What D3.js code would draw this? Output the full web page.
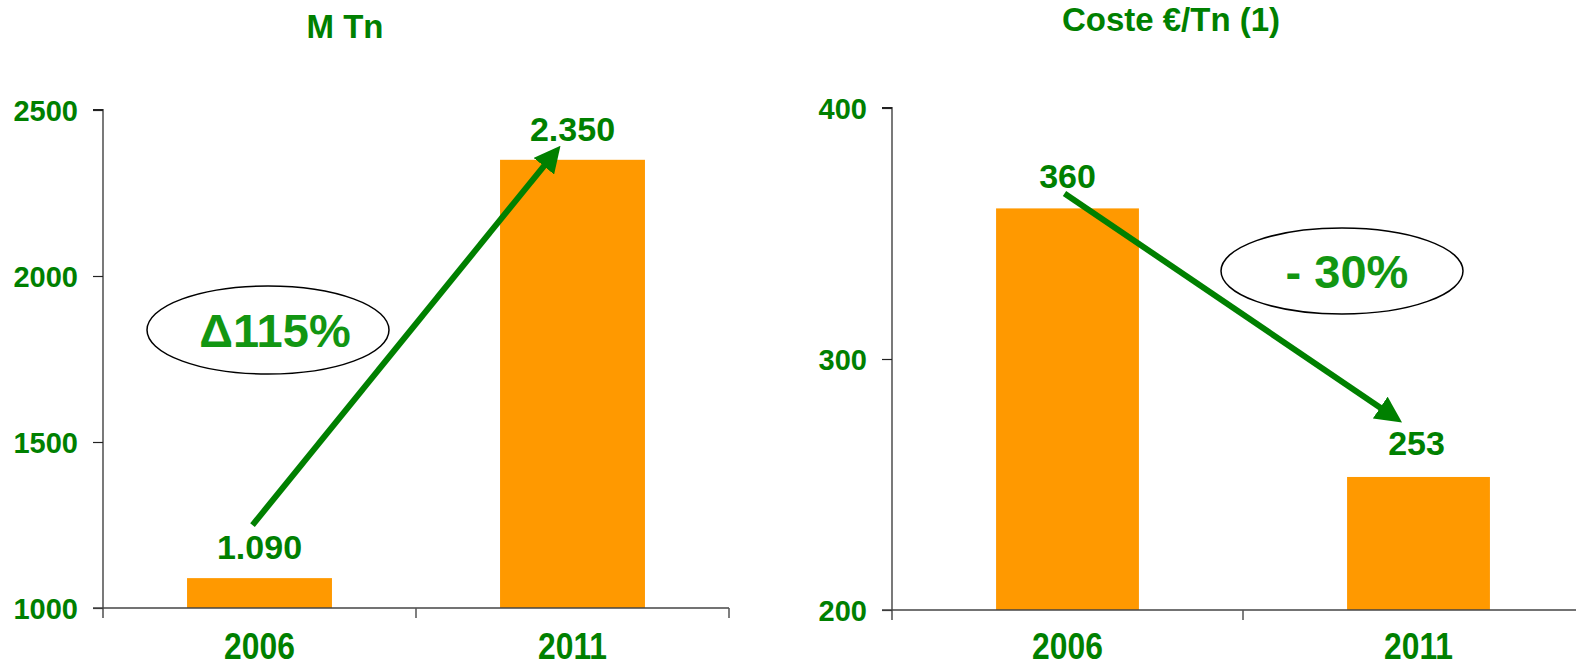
<!DOCTYPE html>
<html>
<head>
<meta charset="utf-8">
<script src="https://cdn.jsdelivr.net/npm/d3@7"></script>
<style>
  html, body { margin: 0; padding: 0; background: #fff; }
  svg text { font-family: "Liberation Sans", Arial, sans-serif; font-weight: bold; }
</style>
</head>
<body>
<svg id="chart" width="1576" height="666"></svg>
<script>
// 数据
const years = ["2006", "2011"];
const tonnes = [1090, 2350];
const tonneLabels = ["1.090", "2.350"];
const tonneTicks = [1000, 1500, 2000, 2500];
const costs = [360, 253];
const costLabels = ["360", "253"];
const costTicks = [200, 300, 400];

const green = "#008000";
const barColor = "#FF9900";

const svg = d3.select("#chart");

// 箭头标记
svg.append("defs").append("marker")
  .attr("id", "head")
  .attr("viewBox", "0 0 10 10")
  .attr("refX", 7).attr("refY", 5)
  .attr("markerWidth", 4.4).attr("markerHeight", 4.4)
  .attr("orient", "auto")
  .attr("markerUnits", "strokeWidth")
  .append("path")
  .attr("d", "M0,0 L10,5 L0,10 z")
  .attr("fill", green);

// 画一个小图
function drawPanel(opt) {
  const g = svg.append("g");

  const x = d3.scaleBand()
    .domain(years)
    .range(opt.xRange)
    .paddingInner(opt.pad)
    .paddingOuter(opt.pad / 2);

  const y = d3.scaleLinear()
    .domain(opt.yDomain)
    .range(opt.yRange);

  const x0 = opt.xRange[0];
  const base = opt.yRange[0];

  // 柱子
  g.selectAll("rect")
    .data(opt.values)
    .enter()
    .append("rect")
    .attr("x", (d, i) => x(years[i]))
    .attr("y", d => y(d))
    .attr("width", x.bandwidth())
    .attr("height", d => base - y(d))
    .attr("fill", barColor);

  // y 轴
  const yAxis = d3.axisLeft(y)
    .tickValues(opt.ticks)
    .tickSize(10)
    .tickPadding(15)
    .tickFormat(d3.format("d"));
  const ya = g.append("g")
    .attr("transform", `translate(${x0},0)`)
    .call(yAxis);
  ya.select(".domain").attr("stroke", "#222").attr("stroke-width", 1.2)
    .attr("d", `M0,${opt.yRange[1] - 0.5}H-10H0V${base + 10}`);
  ya.selectAll(".tick line").attr("stroke", "#222").attr("stroke-width", 1.2);
  ya.selectAll(".tick text")
    .attr("fill", green)
    .attr("font-size", 29)
    .attr("dy", "0.36em")
    .style("font-family", "'Liberation Sans', Arial, sans-serif")
    .style("font-weight", "bold");

  // x 轴 基线
  g.append("line")
    .attr("x1", x0 - 10).attr("x2", opt.xRange[1])
    .attr("y1", base).attr("y2", base)
    .attr("stroke", "#444").attr("stroke-width", 1.5);

  // 分隔刻度
  const step = x.step();
  d3.range(1, years.length + 1).forEach(i => {
    g.append("line")
      .attr("x1", x0 + i * step).attr("x2", x0 + i * step)
      .attr("y1", base).attr("y2", base + 10)
      .attr("stroke", "#555").attr("stroke-width", 1.5);
  });

  // x 轴标签 (窄体)
  g.selectAll(".xlab")
    .data(years)
    .enter()
    .append("text")
    .attr("class", "xlab")
    .attr("transform", d => `translate(${x(d) + x.bandwidth() / 2},659) scale(0.86,1)`)
    .attr("text-anchor", "middle")
    .attr("fill", green)
    .attr("font-size", 37)
    .text(d => d);

  // 数值标签
  g.selectAll(".vlab")
    .data(opt.values)
    .enter()
    .append("text")
    .attr("class", "vlab")
    .attr("x", (d, i) => x(years[i]) + x.bandwidth() / 2 + opt.labelDx[i])
    .attr("y", (d, i) => y(d) + opt.labelDy[i])
    .attr("text-anchor", "middle")
    .attr("fill", green)
    .attr("font-size", 34)
    .text((d, i) => opt.labels[i]);

  // 标题
  g.append("text")
    .attr("x", opt.titleX)
    .attr("y", opt.titleY)
    .attr("text-anchor", "middle")
    .attr("fill", green)
    .attr("font-size", 33)
    .text(opt.title);

  // 箭头
  const c = years.map(yr => x(yr) + x.bandwidth() / 2);
  g.append("line")
    .attr("x1", c[0] + opt.arrow[0]).attr("y1", y(opt.values[0]) + opt.arrow[1])
    .attr("x2", c[1] + opt.arrow[2]).attr("y2", y(opt.values[1]) + opt.arrow[3])
    .attr("stroke", green)
    .attr("stroke-width", 6)
    .attr("marker-end", "url(#head)");

  // 椭圆注释
  g.append("ellipse")
    .attr("cx", opt.ell[0]).attr("cy", opt.ell[1])
    .attr("rx", opt.ell[2]).attr("ry", opt.ell[3])
    .attr("fill", "#fff")
    .attr("stroke", "#000")
    .attr("stroke-width", 1.5);
  g.append("text")
    .attr("x", opt.ell[0] + opt.noteDx)
    .attr("y", opt.ell[1] + 17)
    .attr("text-anchor", "middle")
    .attr("fill", "#129612")
    .attr("font-size", 47)
    .text(opt.note);
}

drawPanel({
  xRange: [103, 729],
  pad: 0.537,
  yDomain: [1000, 2500],
  yRange: [608, 110],
  ticks: tonneTicks,
  values: tonnes,
  labels: tonneLabels,
  labelDx: [0, 0],
  labelDy: [-19, -19],
  title: "M Tn",
  titleX: 345, titleY: 38,
  arrow: [-7, -53, -17, -8],
  ell: [268, 330, 121, 44],
  note: "Δ115%",
  noteDx: 7
});

drawPanel({
  xRange: [892, 1594],
  pad: 0.593,
  yDomain: [200, 400],
  yRange: [610, 108],
  ticks: costTicks,
  values: costs,
  labels: costLabels,
  labelDx: [0, -2],
  labelDy: [-20, -22],
  title: "Coste €/Tn (1)",
  titleX: 1171, titleY: 31,
  arrow: [-3, -15, -23, -59],
  ell: [1342, 271, 121, 43],
  note: "- 30%",
  noteDx: 5
});
</script>
</body>
</html>
